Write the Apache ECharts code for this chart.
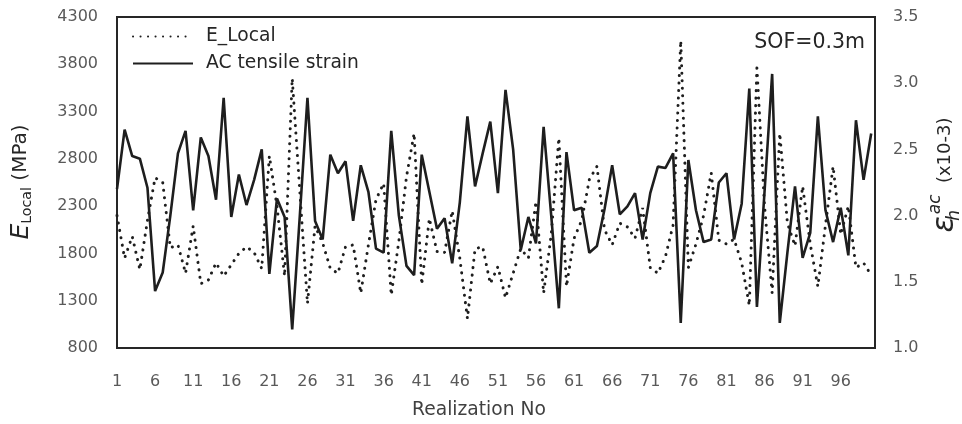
<!DOCTYPE html>
<html>
<head>
<meta charset="utf-8">
<script src="https://cdn.jsdelivr.net/npm/echarts@6/dist/echarts.min.js"></script>
<style>
html, body { margin: 0; padding: 0; background: #fff; }
#chart { width: 962px; height: 424px; }
</style>
</head>
<body>
<div id="chart"></div>
<script>
var realizations = [1, 2, 3, 4, 5, 6, 7, 8, 9, 10, 11, 12, 13, 14, 15, 16, 17, 18, 19, 20,
    21, 22, 23, 24, 25, 26, 27, 28, 29, 30, 31, 32, 33, 34, 35, 36, 37, 38, 39, 40,
    41, 42, 43, 44, 45, 46, 47, 48, 49, 50, 51, 52, 53, 54, 55, 56, 57, 58, 59, 60,
    61, 62, 63, 64, 65, 66, 67, 68, 69, 70, 71, 72, 73, 74, 75, 76, 77, 78, 79, 80,
    81, 82, 83, 84, 85, 86, 87, 88, 89, 90, 91, 92, 93, 94, 95, 96, 97, 98, 99, 100];

// E_Local (MPa), left axis
var eLocal = [2200, 1750, 1980, 1630, 2150, 2600, 2550, 1860, 1890, 1590,
    2090, 1480, 1520, 1700, 1560, 1680, 1800, 1870, 1810, 1640,
    2830, 2300, 1560, 3650, 2450, 1270, 2090, 1910, 1640, 1590,
    1870, 1890, 1380, 1890, 2370, 2540, 1360, 1930, 2610, 3070,
    1470, 2170, 1820, 1810, 2250, 1750, 1110, 1850, 1870, 1480,
    1660, 1330, 1590, 1850, 1750, 2350, 1380, 2000, 3020, 1450,
    1960, 2150, 2580, 2720, 2050, 1890, 2120, 2080, 1960, 2280,
    1650, 1590, 1770, 2100, 4050, 1650, 1900, 2200, 2650, 1940,
    1900, 1950, 1700, 1250, 3760, 2300, 1380, 3070, 2120, 1880,
    2510, 1900, 1450, 2100, 2720, 2000, 2300, 1650, 1700, 1570];

// AC tensile strain (x10-3), right axis
var acStrain = [2.20, 2.65, 2.45, 2.43, 2.21, 1.43, 1.57, 2.00, 2.47, 2.64,
    2.04, 2.59, 2.45, 2.12, 2.89, 1.99, 2.31, 2.08, 2.27, 2.50,
    1.56, 2.13, 1.99, 1.14, 2.00, 2.89, 1.96, 1.82, 2.46, 2.32,
    2.41, 1.96, 2.38, 2.18, 1.75, 1.72, 2.64, 2.00, 1.62, 1.55,
    2.46, 2.18, 1.90, 1.98, 1.64, 2.10, 2.75, 2.22, 2.47, 2.71,
    2.17, 2.95, 2.50, 1.74, 1.99, 1.79, 2.67, 2.00, 1.30, 2.48,
    2.04, 2.06, 1.72, 1.77, 2.05, 2.38, 2.01, 2.07, 2.17, 1.82,
    2.17, 2.37, 2.36, 2.47, 1.19, 2.42, 2.04, 1.80, 1.82, 2.25,
    2.32, 1.82, 2.09, 2.96, 1.31, 2.18, 3.07, 1.19, 1.72, 2.22,
    1.68, 1.87, 2.75, 2.04, 1.80, 2.06, 1.70, 2.72, 2.27, 2.62];

var leftTicks = [800, 1300, 1800, 2300, 2800, 3300, 3800, 4300];
var rightTicks = [1.0, 1.5, 2.0, 2.5, 3.0, 3.5];

var font = 'DejaVu Sans';
var ink = '#1e1e1e';

var chart = echarts.init(document.getElementById('chart'));

var option = {
    animation: false,
    backgroundColor: '#fff',
    textStyle: { fontFamily: font },
    grid: {
        left: 117,
        right: 87,
        top: 17,
        bottom: 76,
        show: true,
        borderColor: '#262626',
        borderWidth: 2
    },
    legend: {
        orient: 'vertical',
        left: 127,
        top: 22,
        itemWidth: 60,
        itemHeight: 14,
        itemGap: 8,
        itemStyle: { opacity: 0 },
        data: ['E_Local', 'AC tensile strain'],
        textStyle: { fontFamily: font, fontSize: 18.7, color: '#262626', padding: [0, 0, 0, 8] }
    },
    xAxis: {
        type: 'value',
        min: 1,
        max: 100.5,
        interval: 5,
        axisLine: { show: false },
        axisTick: { show: false },
        splitLine: { show: false },
        axisLabel: {
            fontFamily: font,
            fontSize: 16,
            color: '#595959',
            margin: 26,
            showMaxLabel: false
        }
    },
    yAxis: [
        {
            type: 'value',
            min: leftTicks[0],
            max: leftTicks[leftTicks.length - 1],
            interval: leftTicks[1] - leftTicks[0],
            axisLine: { show: false },
            axisTick: { show: false },
            splitLine: { show: false },
            axisLabel: {
                fontFamily: font, fontSize: 16, color: '#595959', margin: 19,
                formatter: function (v) { return String(v); }
            }
        },
        {
            type: 'value',
            position: 'right',
            min: rightTicks[0],
            max: rightTicks[rightTicks.length - 1],
            interval: rightTicks[1] - rightTicks[0],
            axisLine: { show: false },
            axisTick: { show: false },
            splitLine: { show: false },
            axisLabel: {
                fontFamily: font, fontSize: 16, color: '#595959', margin: 18,
                formatter: function (v) { return v.toFixed(1); }
            }
        }
    ],
    graphic: [
        {
            type: 'text',
            x: 21, y: 182,
            rotation: Math.PI / 2,
            style: {
                text: '{e|E}{s|Local}{u| (MPa)}',
                align: 'center',
                verticalAlign: 'middle',
                fill: '#262626',
                rich: {
                    e: { fontFamily: font, fontSize: 25, fontStyle: 'italic', lineHeight: 25, verticalAlign: 'middle', fill: '#262626' },
                    s: { fontFamily: font, fontSize: 14.2, lineHeight: 14, verticalAlign: 'bottom', fill: '#262626' },
                    u: { fontFamily: font, fontSize: 20, lineHeight: 27, verticalAlign: 'middle', fill: '#262626' }
                }
            }
        },
        {
            type: 'text',
            x: 945, y: 175,
            rotation: Math.PI / 2,
            style: {
                text: '{ep|ε}{h|h}{ac|ac}{u|  (x10-3)}',
                align: 'center',
                verticalAlign: 'middle',
                fill: '#262626',
                rich: {
                    ep: { fontFamily: font, fontSize: 30, fontStyle: 'italic', lineHeight: 30, verticalAlign: 'middle', fill: '#262626' },
                    h: { fontFamily: font, fontSize: 17, fontStyle: 'italic', lineHeight: 17, verticalAlign: 'bottom', width: 2, fill: '#262626' },
                    ac: { fontFamily: font, fontSize: 17, fontStyle: 'italic', lineHeight: 17, verticalAlign: 'top', fill: '#262626' },
                    u: { fontFamily: font, fontSize: 18, lineHeight: 36, verticalAlign: 'middle', fill: '#262626' }
                }
            }
        },
        {
            type: 'text',
            x: 865, y: 43,
            style: {
                text: 'SOF=0.3m',
                align: 'right',
                verticalAlign: 'middle',
                fontFamily: font,
                fontSize: 20.5,
                fill: '#262626'
            }
        },
        {
            type: 'text',
            x: 479, y: 410,
            style: {
                text: 'Realization No',
                align: 'center',
                verticalAlign: 'middle',
                fontFamily: font,
                fontSize: 18.7,
                fill: '#404040'
            }
        }
    ],
    series: [
        {
            name: 'E_Local',
            type: 'line',
            yAxisIndex: 0,
            symbol: 'none',
            lineStyle: { color: ink, width: 3, type: [0.1, 7.4], cap: 'round' },
            itemStyle: { color: ink },
            data: realizations.map(function (r, k) { return [r, eLocal[k]]; })
        },
        {
            name: 'AC tensile strain',
            type: 'line',
            yAxisIndex: 1,
            symbol: 'none',
            lineStyle: { color: ink, width: 2.6 },
            itemStyle: { color: ink },
            data: realizations.map(function (r, k) { return [r, acStrain[k]]; })
        }
    ]
};

chart.setOption(option);
window.addEventListener('resize', chart.resize);
</script>
</body>
</html>
